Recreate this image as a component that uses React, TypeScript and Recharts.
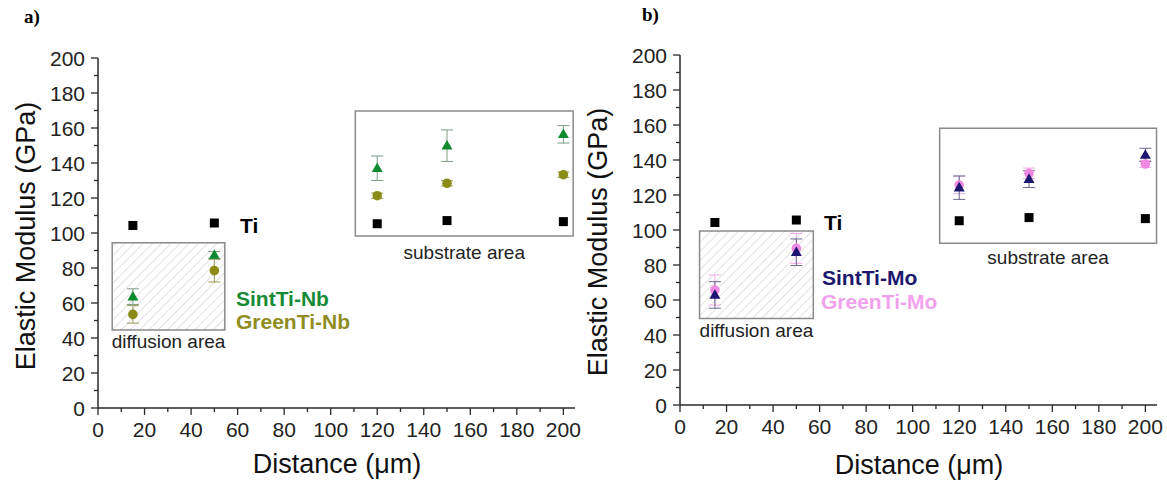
import React from "react";
import { ErrorBar, ReferenceArea, Scatter, ScatterChart, XAxis, YAxis } from "recharts";

const distances = [15, 50, 120, 150, 200];
const tiModulus = [104.3, 105.7, 105.3, 107.1, 106.5];

const sintNb = [63.6, 87.4, 137, 149.9, 156.4];
const sintNbErr = [4.5, 2, 7, 9, 5];
const greenNb = [53.5, 78.5, 121.3, 128.4, 133.3];
const greenNbErr = [5, 6.5, 1.5, 1.5, 1.5];

const sintMo = [62.9, 87.3, 124.2, 129.1, 142.9];
const sintMoErr = [7.6, 7.6, 6.7, 4.8, 3.8];
const greenMo = [65.7, 89.5, 125.7, 132.4, 137.7];
const greenMoErr = [8.6, 8.5, 5, 3, 2];

const xTicks = [0, 10, 20, 30, 40, 50, 60, 70, 80, 90, 100, 110, 120, 130, 140, 150, 160, 170, 180, 190, 200];
const yTicks = [0, 10, 20, 30, 40, 50, 60, 70, 80, 90, 100, 110, 120, 130, 140, 150, 160, 170, 180, 190, 200];

const FONT = "Arial, 'Liberation Sans', sans-serif";
const AXIS = "#2a2a2a";
const MAJOR = 7;
const MINOR = 4;
const Y_MARGIN = 6;
const X_MARGIN = 7;

const toPoints = (ys: number[], errs?: number[]) =>
  distances.map((x, i) => ({ x, y: ys[i], err: errs ? errs[i] : 0 }));

function YTick(props: any) {
  const { x, y, payload } = props;
  const v = payload.value;
  const major = v % 20 === 0;
  const ax = x + MAJOR + Y_MARGIN;
  return (
    <g>
      <line x1={ax} x2={ax - (major ? MAJOR : MINOR)} y1={y} y2={y} stroke={AXIS} strokeWidth={1.3} />
      {major && (
        <text x={x} y={y} textAnchor="end" dominantBaseline="central" fontSize={21} fill="#222" fontFamily={FONT}>
          {v}
        </text>
      )}
    </g>
  );
}

function XTick(props: any) {
  const { x, y, payload } = props;
  const v = payload.value;
  const major = v % 20 === 0;
  const ay = y - MAJOR - X_MARGIN;
  return (
    <g>
      <line x1={x} x2={x} y1={ay} y2={ay + (major ? MAJOR : MINOR)} stroke={AXIS} strokeWidth={1.3} />
      {major && (
        <text x={x} y={y} dy="0.72em" textAnchor="middle" fontSize={21} fill="#222" fontFamily={FONT}>
          {v}
        </text>
      )}
    </g>
  );
}

const square = (p: any) => <rect x={p.cx - 4.5} y={p.cy - 4.5} width={9} height={9} fill="#000" />;
const circle = (color: string) => (p: any) => <circle cx={p.cx} cy={p.cy} r={4.8} fill={color} />;
const triangle = (color: string) => (p: any) => (
  <path d={`M${p.cx},${p.cy - 5.8} L${p.cx + 5.5},${p.cy + 3.8} L${p.cx - 5.5},${p.cy + 3.8} Z`} fill={color} />
);

type Series = { name: string; values: number[]; errs: number[]; color: string; errColor: string; marker: "circle" | "triangle" };
type Box = { x1: number; x2: number; y1: number; y2: number; label: string; offset: number; hatched: boolean };
type Note = { text: string; left: number; top: number; color: string };

function Panel(props: {
  left: number;
  width: number;
  margin: { top: number; right: number; bottom: number; left: number };
  hatchId: string;
  boxes: Box[];
  series: Series[];
}) {
  const { left, width, margin, hatchId, boxes, series } = props;
  return (
    <div style={{ position: "absolute", left, top: 0 }}>
      <ScatterChart width={width} height={486} margin={margin}>
        <defs>
          <pattern id={hatchId} patternUnits="userSpaceOnUse" width={6.5} height={6.5} patternTransform="rotate(45)">
            <line x1={0} y1={0} x2={0} y2={6.5} stroke="#c4c4c4" strokeWidth={1} />
          </pattern>
        </defs>
        <XAxis
          type="number"
          dataKey="x"
          domain={[0, 205]}
          ticks={xTicks}
          interval={0}
          height={40}
          tickSize={MAJOR}
          tickMargin={X_MARGIN}
          tickLine={false}
          axisLine={{ stroke: AXIS, strokeWidth: 1.5 }}
          tick={<XTick />}
        />
        <YAxis
          type="number"
          dataKey="y"
          domain={[0, 200]}
          ticks={yTicks}
          interval={0}
          width={70}
          tickSize={MAJOR}
          tickMargin={Y_MARGIN}
          tickLine={false}
          axisLine={{ stroke: AXIS, strokeWidth: 1.5 }}
          tick={<YTick />}
        />
        {boxes.map((b) => (
          <ReferenceArea
            key={b.label}
            x1={b.x1}
            x2={b.x2}
            y1={b.y1}
            y2={b.y2}
            fill={b.hatched ? `url(#${hatchId})` : "none"}
            fillOpacity={1}
            stroke="#8a8a8a"
            strokeWidth={1.5}
            label={{ value: b.label, position: "bottom", offset: b.offset, fontSize: 19, fill: "#222", fontFamily: FONT }}
          />
        ))}
        <Scatter name="Ti" data={toPoints(tiModulus)} shape={square} isAnimationActive={false} />
        {series.map((s) => (
          <Scatter
            key={s.name}
            name={s.name}
            data={toPoints(s.values, s.errs)}
            shape={s.marker === "circle" ? circle(s.color) : triangle(s.color)}
            isAnimationActive={false}
          >
            <ErrorBar dataKey="err" direction="y" width={6} stroke={s.errColor} strokeWidth={1} />
          </Scatter>
        ))}
      </ScatterChart>
    </div>
  );
}

const notesA: Note[] = [
  { text: "Ti", left: 240, top: 215, color: "#000" },
  { text: "SintTi-Nb", left: 236, top: 288, color: "#178a36" },
  { text: "GreenTi-Nb", left: 236, top: 311, color: "#8f8d1e" },
];
const notesB: Note[] = [
  { text: "Ti", left: 824, top: 212, color: "#000" },
  { text: "SintTi-Mo", left: 822, top: 267, color: "#1c186e" },
  { text: "GreenTi-Mo", left: 821, top: 291, color: "#f2a2ec" },
];

export default function App() {
  const titleY = { position: "absolute" as const, fontSize: 27, whiteSpace: "nowrap" as const, transform: "translate(-50%, -50%) rotate(-90deg)", color: "#111" };
  const titleX = { position: "absolute" as const, fontSize: 27, whiteSpace: "nowrap" as const, transform: "translate(-50%, -50%)", color: "#111" };
  return (
    <div style={{ position: "absolute", left: 0, top: 0, width: 1167, height: 486, background: "#fff", fontFamily: FONT, overflow: "hidden" }}>
      <Panel
        left={0}
        width={583}
        margin={{ top: 58, right: 8, bottom: 38, left: 28 }}
        hatchId="hatchA"
        boxes={[
          { x1: 6.1, x2: 54.5, y1: 44.6, y2: 94.5, label: "diffusion area", offset: 5, hatched: true },
          { x1: 110.6, x2: 204.2, y1: 98.3, y2: 169.7, label: "substrate area", offset: 10, hatched: false },
        ]}
        series={[
          { name: "GreenTi-Nb", values: greenNb, errs: greenNbErr, color: "#8b8c18", errColor: "#9a9a55", marker: "circle" },
          { name: "SintTi-Nb", values: sintNb, errs: sintNbErr, color: "#0d8a2f", errColor: "#7f9c84", marker: "triangle" },
        ]}
      />
      <Panel
        left={583}
        width={584}
        margin={{ top: 55, right: 10, bottom: 41, left: 27 }}
        hatchId="hatchB"
        boxes={[
          { x1: 8.4, x2: 57.3, y1: 49.5, y2: 99.4, label: "diffusion area", offset: 5, hatched: true },
          { x1: 111.6, x2: 204.8, y1: 92.4, y2: 158.1, label: "substrate area", offset: 7, hatched: false },
        ]}
        series={[
          { name: "GreenTi-Mo", values: greenMo, errs: greenMoErr, color: "#ee88e0", errColor: "#eeaae6", marker: "circle" },
          { name: "SintTi-Mo", values: sintMo, errs: sintMoErr, color: "#1c1670", errColor: "#6a6890", marker: "triangle" },
        ]}
      />
      {[...notesA, ...notesB].map((n) => (
        <div key={n.text + n.left} style={{ position: "absolute", left: n.left, top: n.top, fontSize: 21, lineHeight: "21px", fontWeight: "bold", color: n.color, whiteSpace: "nowrap" }}>
          {n.text}
        </div>
      ))}
      <div style={{ position: "absolute", left: 24, top: 6, fontFamily: "'Liberation Serif', 'Times New Roman', serif", fontWeight: "bold", fontSize: 19 }}>a)</div>
      <div style={{ position: "absolute", left: 642, top: 4, fontFamily: "'Liberation Serif', 'Times New Roman', serif", fontWeight: "bold", fontSize: 19 }}>b)</div>
      <div style={{ ...titleY, left: 26, top: 236 }}>Elastic Modulus (GPa)</div>
      <div style={{ ...titleY, left: 598, top: 242 }}>Elastic Modulus (GPa)</div>
      <div style={{ ...titleX, left: 337, top: 464 }}>Distance (μm)</div>
      <div style={{ ...titleX, left: 919, top: 465 }}>Distance (μm)</div>
    </div>
  );
}
